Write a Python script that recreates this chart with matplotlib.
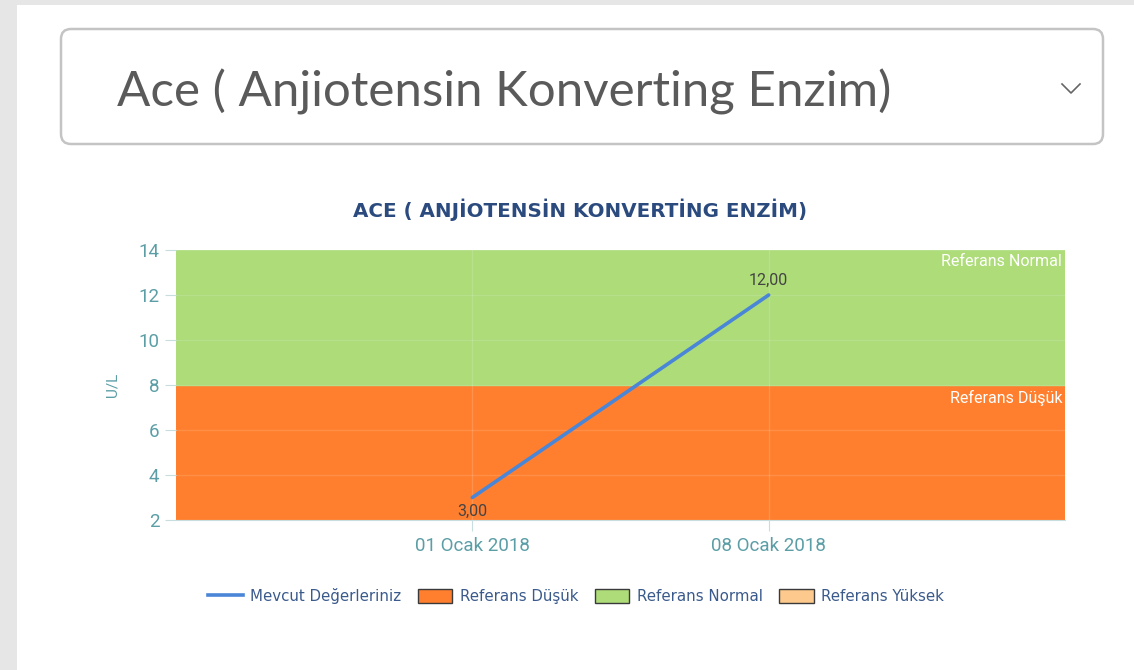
import matplotlib.pyplot as plt
from matplotlib.patches import FancyBboxPatch, Rectangle, Patch
from matplotlib.lines import Line2D

# Data
dates = ["01 Ocak 2018", "08 Ocak 2018"]
values = [3.0, 12.0]
value_labels = ["3,00", "12,00"]
y_ticks = [2, 4, 6, 8, 10, 12, 14]
ref_low = (2, 8)
ref_normal = (8, 14)
legend_labels = ["Mevcut Değerleriniz", "Referans Düşük", "Referans Normal", "Referans Yüksek"]

c_line = "#4a86d8"
c_low = "#ff7f2e"
c_normal = "#addc79"
c_high = "#fdc98c"
c_tick = "#5b9ea6"

W, H = 1134, 670
fig = plt.figure(figsize=(W / 100, H / 100), dpi=100, facecolor="#e6e6e6")

# Background layer in pixel coordinates
bg = fig.add_axes([0, 0, 1, 1], zorder=0)
bg.set_xlim(0, W)
bg.set_ylim(H, 0)
bg.axis("off")
bg.add_patch(Rectangle((17, 5), W - 17, H - 5, facecolor="white", edgecolor="none"))
bg.add_patch(FancyBboxPatch((61, 29), 1042, 115, boxstyle="round,pad=0,rounding_size=10",
                            facecolor="white", edgecolor="#c4c4c4", linewidth=1.8))
bg.text(117, 92, "Ace ( Anjiotensin Konverting Enzim)", fontsize=35.5, family="Lato",
        fontweight="normal", color="#5a5a5a", va="center", ha="left")
bg.plot([1062, 1071, 1080], [84, 93, 84], color="#666666", linewidth=1.2)
bg.text(580, 210, "ACE ( ANJİOTENSİN KONVERTİNG ENZİM)", fontsize=14.3, fontweight="bold",
        family="DejaVu Sans", color="#2b4a7e", ha="center", va="center")
bg.text(112, 385, "U/L", rotation=90, fontsize=11, family="Roboto", color=c_tick,
        ha="center", va="center")

# Chart axes
left, right, top, bottom = 176, 1065, 250, 520
ax = fig.add_axes([left / W, 1 - bottom / H, (right - left) / W, (bottom - top) / H], zorder=1)
x = list(range(len(dates)))
ax.set_xlim(-1, len(dates))
ax.set_ylim(ref_low[0], ref_normal[1])

ax.axhspan(ref_low[0], ref_low[1], color=c_low, zorder=0)
ax.axhspan(ref_normal[0], ref_normal[1], color=c_normal, zorder=0)
for yv in y_ticks:
    ax.axhline(yv, color="white", alpha=0.12, linewidth=1, zorder=1)
for xv in x:
    ax.axvline(xv, color="white", alpha=0.15, linewidth=1, zorder=1)

ax.plot(x, values, color=c_line, linewidth=2.6, solid_capstyle="round", zorder=3)
ax.text(x[0], values[0] - 0.3, value_labels[0], ha="center", va="top", fontsize=11.5,
        family="Roboto", color="#444444", zorder=4, clip_on=True)
ax.text(x[1], values[1] + 0.3, value_labels[1], ha="center", va="bottom", fontsize=11.5,
        family="Roboto", color="#444444", zorder=4)

ax.text(len(dates) - 0.01, ref_normal[1] - 0.2, "Referans Normal", ha="right", va="top",
        fontsize=11.5, family="Roboto", color="white", zorder=4)
ax.text(len(dates) - 0.01, ref_low[1] - 0.2, "Referans Düşük", ha="right", va="top",
        fontsize=11.5, family="Roboto", color="white", zorder=4)

ax.set_yticks(y_ticks)
ax.set_xticks(x)
ax.set_xticklabels(dates)
for lbl in ax.get_xticklabels() + ax.get_yticklabels():
    lbl.set_family("Roboto")
    lbl.set_fontsize(13.5)
    lbl.set_color(c_tick)
ax.tick_params(axis="y", length=8, color="#c8dde0", pad=4)
ax.tick_params(axis="x", length=8, color="#c8dde0", pad=4)
for side in ["top", "right", "left"]:
    ax.spines[side].set_visible(False)
ax.spines["bottom"].set_color("#c8dde0")

handles = [
    Line2D([0], [0], color=c_line, linewidth=2.6),
    Patch(facecolor=c_low, edgecolor="#3a3a3a", linewidth=1),
    Patch(facecolor=c_normal, edgecolor="#3a3a3a", linewidth=1),
    Patch(facecolor=c_high, edgecolor="#3a3a3a", linewidth=1),
]
leg = fig.legend(handles, legend_labels, loc="center", bbox_to_anchor=(576 / W, 1 - 596 / H),
                 ncol=4, frameon=False, handlelength=2.3, handleheight=1.0,
                 handletextpad=0.5, columnspacing=1.1,
                 prop={"family": "DejaVu Sans", "size": 10.8})
for t in leg.get_texts():
    t.set_color("#3a5a8c")

fig.savefig("out.png", dpi=100, facecolor=fig.get_facecolor())
